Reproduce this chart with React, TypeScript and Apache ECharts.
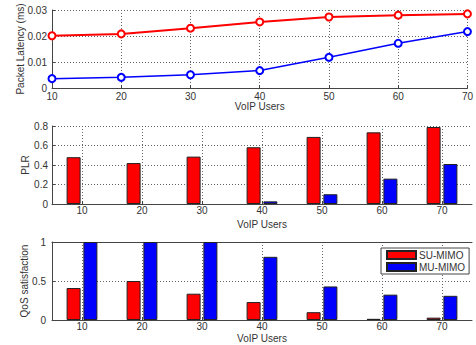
import React, { useEffect, useRef } from "react";
import * as echarts from "echarts";

const users = [10, 20, 30, 40, 50, 60, 70];
const userLabels = ["10", "20", "30", "40", "50", "60", "70"];
const latencySU = [0.0201, 0.0208, 0.023, 0.0254, 0.0273, 0.028, 0.0285];
const latencyMU = [0.0036, 0.0041, 0.0051, 0.0067, 0.0118, 0.0172, 0.0217];
const plrSU = [0.48, 0.42, 0.486, 0.582, 0.688, 0.735, 0.79];
const plrMU = [0, 0, 0, 0.027, 0.1, 0.26, 0.41];
const qosSU = [0.41, 0.5, 0.337, 0.23, 0.1, 0.015, 0.03];
const qosMU = [1, 1, 1, 0.81, 0.43, 0.325, 0.31];
const seriesNames = ["SU-MIMO", "MU-MIMO"];

const FONT = "Liberation Sans, Arial, sans-serif";
const TXT = "#333";
const AX = "#444";
const dotted = { color: "#666", type: [1, 2] as any, width: 1 };

export default function App() {
  const ref = useRef<HTMLDivElement>(null);
  useEffect(() => {
    if (!ref.current) return;
    const chart = echarts.init(ref.current, undefined, { renderer: "svg" });
    const grids = [
      { left: 52, top: 10, width: 420, height: 78 },
      { left: 52, top: 126, width: 420, height: 78 },
      { left: 52, top: 242, width: 420, height: 78 },
    ];
    const axisLine = { show: true, lineStyle: { color: AX, width: 1 } };
    const axisTick = { show: true, inside: true, length: 3, lineStyle: { color: AX } };
    const labelStyle = { color: TXT, fontFamily: FONT, fontSize: 10 };
    const nameStyle = { color: TXT, fontFamily: FONT, fontSize: 10 };

    const catX = (gi: number, gap: number, margin: number) => ({
      type: "category",
      gridIndex: gi,
      data: userLabels,
      name: "VoIP Users",
      nameLocation: "middle",
      nameGap: gap,
      nameMoveOverlap: false,
      nameTextStyle: nameStyle,
      axisLine,
      axisTick: { ...axisTick, alignWithLabel: true },
      axisLabel: { ...labelStyle, margin },
      splitLine: { show: true, alignWithLabel: true, lineStyle: dotted },
    });

    const barSeries = (name: string, data: number[], color: string, xi: number, yi: number) => ({
      type: "bar",
      name,
      data: data.map((v) => (v === 0 ? null : v)),
      xAxisIndex: xi,
      yAxisIndex: yi,
      barWidth: 14,
      barGap: "20%",
      itemStyle: { color, borderColor: "#222", borderWidth: 1 },
    });

    const option: any = {
      animation: false,
      backgroundColor: "#fff",
      grid: grids,
      legend: {
        data: seriesNames,
        orient: "vertical",
        left: 381,
        top: 248,
        itemWidth: 29,
        itemHeight: 8,
        itemGap: 2,
        padding: [2, 4, 2, 5],
        backgroundColor: "#fff",
        borderColor: AX,
        borderWidth: 1,
        borderRadius: 0,
        icon: "rect",
        textStyle: { color: TXT, fontFamily: FONT, fontSize: 10, padding: [0, 0, 0, -2] },
      },
      xAxis: [
        {
          type: "value",
          gridIndex: 0,
          min: 10,
          max: 70,
          interval: 10,
          name: "VoIP Users",
          nameLocation: "middle",
          nameGap: 13,
          nameMoveOverlap: false,
          nameTextStyle: nameStyle,
          axisLine,
          axisTick,
          axisLabel: { ...labelStyle, margin: 3 },
          splitLine: { show: true, lineStyle: dotted },
        },
        catX(1, 15, 1),
        catX(2, 13, 1),
        {
          type: "category",
          gridIndex: 2,
          position: "top",
          data: userLabels,
          axisLine,
          axisTick: { show: false },
          axisLabel: { show: false },
          splitLine: { show: false },
        },
      ],
      yAxis: [
        {
          type: "value",
          gridIndex: 0,
          min: 0,
          max: 0.03,
          interval: 0.01,
          name: "Packet Latency (ms)",
          nameLocation: "middle",
          nameGap: 27,
          nameMoveOverlap: false,
          nameTextStyle: nameStyle,
          axisLine,
          axisTick,
          axisLabel: { ...labelStyle, margin: 5 },
          splitLine: { show: true, lineStyle: dotted },
        },
        {
          type: "value",
          gridIndex: 1,
          min: 0,
          max: 0.8,
          interval: 0.2,
          name: "PLR",
          nameLocation: "middle",
          nameGap: 22,
          nameMoveOverlap: false,
          nameTextStyle: nameStyle,
          axisLine,
          axisTick,
          axisLabel: { ...labelStyle, margin: 4 },
          splitLine: { show: true, lineStyle: dotted },
        },
        {
          type: "value",
          gridIndex: 2,
          min: 0,
          max: 1,
          interval: 0.5,
          name: "QoS satisfaction",
          nameLocation: "middle",
          nameGap: 23,
          nameMoveOverlap: false,
          nameTextStyle: nameStyle,
          axisLine,
          axisTick,
          axisLabel: { ...labelStyle, margin: 6 },
          splitLine: { show: true, lineStyle: dotted },
        },
      ],
      series: [
        {
          type: "line",
          name: "lat-su",
          xAxisIndex: 0,
          yAxisIndex: 0,
          data: users.map((u, i) => [u, latencySU[i]]),
          symbol: "emptyCircle",
          symbolSize: 7,
          lineStyle: { color: "#ff0000", width: 2 },
          itemStyle: { color: "#ff0000", borderWidth: 1.5 },
        },
        {
          type: "line",
          name: "lat-mu",
          xAxisIndex: 0,
          yAxisIndex: 0,
          data: users.map((u, i) => [u, latencyMU[i]]),
          symbol: "emptyCircle",
          symbolSize: 7,
          lineStyle: { color: "#0000ff", width: 1.5 },
          itemStyle: { color: "#0000ff", borderWidth: 1.5 },
        },
        barSeries("plr-su", plrSU, "#ff0000", 1, 1),
        barSeries("plr-mu", plrMU, "#0000ff", 1, 1),
        barSeries(seriesNames[0], qosSU, "#ff0000", 2, 2),
        barSeries(seriesNames[1], qosMU, "#0000ff", 2, 2),
      ],
    };
    chart.setOption(option);
    return () => chart.dispose();
  }, []);
  return <div ref={ref} style={{ width: 476, height: 345, position: "absolute", left: 0, top: 0 }} />;
}
